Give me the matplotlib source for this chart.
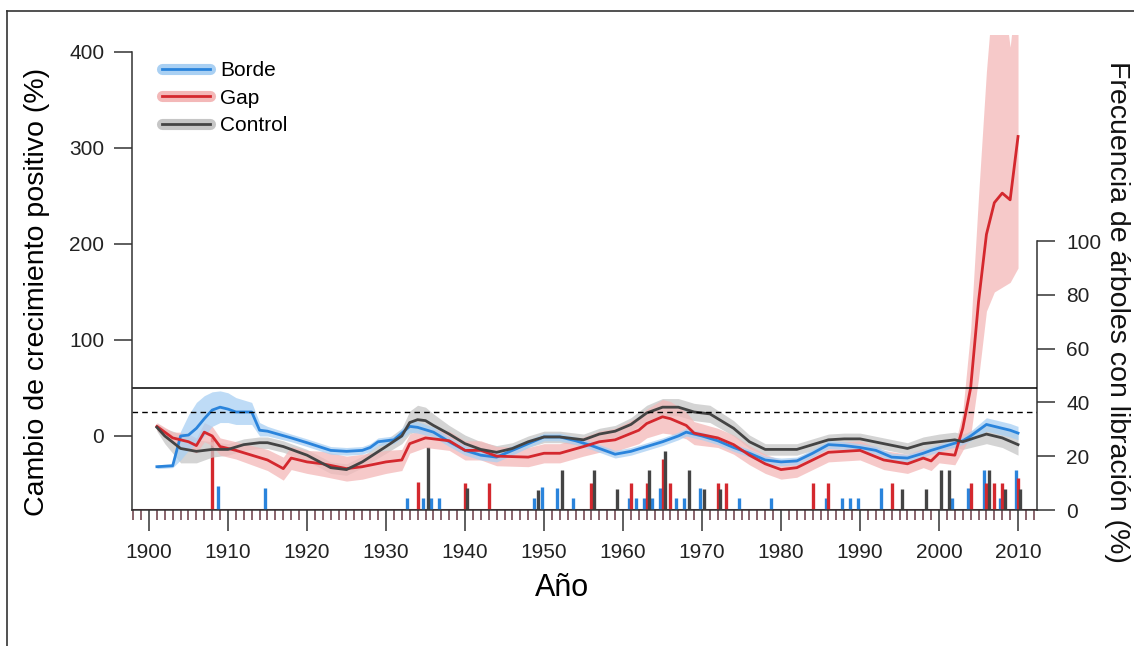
import numpy as np
import matplotlib
matplotlib.use("Agg")
import matplotlib.pyplot as plt
from matplotlib.lines import Line2D

plt.rcParams['font.family'] = ['Liberation Sans', 'DejaVu Sans']

# Borde: media y banda (lo, hi)
borde_yr = [1901, 1903, 1904, 1905, 1906, 1907, 1908, 1909, 1910, 1911, 1913, 1914, 1915,
            1918, 1920, 1923, 1925, 1927, 1928, 1929, 1931, 1932, 1933, 1934, 1936, 1938,
            1940, 1942, 1944, 1946, 1948, 1950, 1952, 1954, 1956, 1958, 1959, 1961, 1963,
            1965, 1967, 1968, 1970, 1972, 1974, 1976, 1978, 1980, 1982, 1984, 1986, 1988,
            1990, 1992, 1994, 1996, 1998, 1999, 2001, 2003, 2004, 2005, 2006, 2007, 2008,
            2009, 2010]
borde_m = [-32, -31, 0, 1, 8, 18, 27, 30, 28, 25, 25, 6, 5,
           -2, -7, -15, -16, -15, -12, -6, -4, 3, 10, 9, 4, -6,
           -15, -20, -22, -15, -8, -1, -1, -5, -10, -16, -19, -16, -11,
           -6, 0, 4, 0, -5, -12, -18, -25, -27, -26, -18, -9, -10,
           -12, -15, -22, -23, -18, -15, -10, -5, 0, 6, 12, 10, 8,
           6, 3]
borde_lo = [-34, -33, -25, -15, -8, 0, 10, 14, 14, 12, 12, 0, 0,
            -6, -11, -19, -20, -19, -16, -10, -8, -2, 4, 3, -1, -11,
            -20, -25, -27, -20, -12, -5, -5, -9, -14, -20, -23, -20, -15,
            -10, -4, 0, -4, -9, -16, -22, -29, -31, -30, -22, -13, -14,
            -16, -19, -26, -27, -22, -19, -14, -9, -5, 0, 5, 3, 1,
            -1, -4]
borde_hi = [-30, -29, 5, 22, 35, 42, 46, 47, 45, 40, 35, 14, 10,
            2, -3, -11, -12, -11, -8, -2, 0, 8, 16, 15, 9, -1,
            -10, -15, -17, -10, -4, 3, 3, -1, -6, -12, -15, -12, -7,
            -2, 4, 8, 4, -1, -8, -14, -21, -23, -22, -14, -5, -6,
            -8, -11, -18, -19, -14, -11, -6, -1, 5, 12, 19, 17, 15,
            13, 10]

# Gap
gap_yr = [1901, 1903, 1904, 1905, 1906, 1907, 1908, 1909, 1911, 1913, 1915, 1917, 1918,
          1920, 1922, 1925, 1927, 1930, 1932, 1933, 1935, 1938, 1940, 1942, 1944, 1948,
          1950, 1952, 1955, 1957, 1959, 1962, 1963, 1965, 1966, 1968, 1969, 1972, 1974,
          1976, 1978, 1980, 1982, 1984, 1986, 1988, 1990, 1993, 1996, 1998, 1999, 2000,
          2002, 2003, 2004, 2005, 2006, 2007, 2008, 2009, 2010]
gap_m = [10, -2, -4, -6, -10, 4, 0, -11, -15, -20, -25, -34, -23,
         -27, -29, -34, -32, -27, -25, -8, -2, -5, -15, -15, -21, -22,
         -18, -18, -11, -6, -4, 6, 13, 20, 18, 11, 3, -2, -9,
         -20, -29, -35, -33, -25, -17, -16, -15, -25, -29, -23, -26, -18,
         -20, 8, 50, 140, 210, 243, 253, 246, 312]
gap_lo = [6, -8, -12, -14, -18, -6, -10, -20, -24, -30, -36, -46, -35,
          -39, -42, -47, -45, -39, -36, -18, -12, -15, -25, -25, -31, -32,
          -28, -28, -21, -17, -16, -8, -2, 3, 2, -3, -9, -12, -19,
          -30, -39, -45, -43, -35, -27, -26, -25, -35, -39, -33, -36, -28,
          -30, -15, 0, 60, 130, 150, 155, 160, 175]
gap_hi = [14, 4, 4, 2, -2, 14, 10, -2, -6, -10, -14, -22, -11,
          -15, -16, -21, -19, -15, -14, 2, 8, 5, -5, -5, -11, -12,
          -8, -8, -1, 5, 8, 20, 28, 38, 36, 25, 15, 8, 1,
          -10, -19, -25, -23, -15, -7, -6, -5, -15, -19, -13, -16, -8,
          -10, 25, 110, 250, 380, 480, 470, 405, 480]

# Control
ctrl_yr = [1901, 1902, 1904, 1906, 1908, 1910, 1912, 1914, 1915, 1917, 1920, 1923, 1925,
           1927, 1930, 1932, 1933, 1934, 1935, 1936, 1938, 1940, 1942, 1944, 1946, 1948,
           1950, 1952, 1955, 1957, 1959, 1961, 1963, 1965, 1967, 1969, 1971, 1974, 1976,
           1978, 1980, 1982, 1984, 1986, 1988, 1990, 1993, 1996, 1998, 2000, 2002, 2003,
           2006, 2008, 2010]
ctrl_m = [9, 0, -13, -16, -14, -14, -9, -7, -7, -11, -20, -33, -35,
          -27, -11, 0, 14, 17, 16, 11, 2, -8, -14, -17, -13, -6,
          -1, -1, -4, 2, 5, 12, 24, 30, 30, 25, 23, 8, -6,
          -14, -14, -14, -9, -4, -3, -3, -8, -13, -8, -6, -4, -6,
          2, -2, -9]
ctrl_lo = [5, -8, -28, -28, -22, -20, -15, -13, -13, -17, -26, -39, -41,
           -33, -18, -8, 2, 5, 4, 0, -7, -17, -22, -24, -19, -12,
           -7, -7, -10, -4, -1, 5, 16, 21, 21, 16, 14, 0, -13,
           -20, -20, -20, -15, -10, -9, -9, -14, -19, -15, -14, -12, -14,
           -8, -12, -20]
ctrl_hi = [13, 8, 2, -4, -6, -8, -3, -1, -1, -5, -14, -27, -29,
           -21, -4, 8, 26, 32, 30, 23, 11, 1, -6, -10, -7, 0,
           5, 5, 2, 8, 11, 19, 32, 39, 39, 34, 32, 16, 1,
           -8, -8, -8, -3, 2, 3, 3, -2, -7, -1, 2, 4, 2,
           12, 8, 2]

# Frecuencia de arboles con liberacion (%)
borde_bar_yr = [1909, 1915, 1933, 1935, 1936, 1937, 1949, 1950, 1952, 1954, 1961, 1962,
                1963, 1964, 1965, 1967, 1968, 1970, 1975, 1979, 1986, 1988, 1989, 1990,
                1993, 2002, 2004, 2006, 2008, 2010]
borde_bar = [9, 8, 4.5, 4.5, 4.5, 4.5, 4.5, 8.5, 8, 4.5, 4.5, 4.5,
             4.5, 4.5, 8, 4.5, 4.5, 8, 4.5, 4.5, 4.5, 4.5, 4.5, 4.5,
             8, 4.5, 8, 15, 4.5, 15]
gap_bar_yr = [1908, 1934, 1940, 1943, 1956, 1961, 1963, 1965, 1966, 1972, 1973, 1984,
              1986, 1994, 2004, 2006, 2007, 2008, 2010]
gap_bar = [27, 10.5, 10, 10, 10, 10, 10, 19, 10, 10, 10, 10,
           10, 10, 10, 10, 10, 10, 12]
ctrl_bar_yr = [1935, 1940, 1949, 1952, 1956, 1959, 1963, 1965, 1968, 1970, 1972, 1995,
               1998, 2000, 2001, 2006, 2008, 2010]
ctrl_bar = [23.5, 8, 7.5, 15, 15, 7.7, 15, 22, 15, 7.7, 7.7, 7.7,
            7.7, 15, 15, 15, 7.7, 7.7]

c_borde, c_gap, c_ctrl = '#2a84dc', '#d4282e', '#444444'
f_borde, f_gap, f_ctrl = '#a9d0f3', '#f3b8b8', '#c6c6c6'

fig = plt.figure(figsize=(11.34, 6.46), dpi=100)
ax = fig.add_axes([132/1134, 1-510/646, 905/1134, 475/646])
ax2 = ax.twinx()
ax.set_zorder(ax2.get_zorder() + 1)
ax.patch.set_visible(False)

# bandas y medias
for yr, lo, hi, fc in [(ctrl_yr, ctrl_lo, ctrl_hi, f_ctrl),
                       (gap_yr, gap_lo, gap_hi, f_gap),
                       (borde_yr, borde_lo, borde_hi, f_borde)]:
    ax.fill_between(yr, lo, hi, color=fc, alpha=0.75, lw=0)
ax.plot(borde_yr, borde_m, color=c_borde, lw=2)
ax.plot(gap_yr, gap_m, color=c_gap, lw=2)
ax.plot(ctrl_yr, ctrl_m, color=c_ctrl, lw=2)

ax.axhline(50, color='black', lw=1.1)
ax.axhline(25, color='black', lw=1, ls=(0, (4, 3)))

ax.set_xlim(1897.85, 2012.4)
ax.set_ylim(-77.1, 417.7)
ax2.set_ylim(0, 176.6)

# barras de frecuencia
off = 0.3
ax2.vlines(np.array(borde_bar_yr) - off, 0, borde_bar, color=c_borde, lw=2.4)
ax2.vlines(np.array(gap_bar_yr), 0, gap_bar, color=c_gap, lw=2.4)
ax2.vlines(np.array(ctrl_bar_yr) + off, 0, ctrl_bar, color=c_ctrl, lw=2.4)
ax2.axhline(0, color='#5a3038', lw=2.2, zorder=1)

# ejes
for a in (ax, ax2):
    a.spines['top'].set_visible(False)
ax.spines['right'].set_visible(False)
ax2.spines['left'].set_visible(False)
ax2.spines['bottom'].set_visible(False)
ax.spines['left'].set_bounds(-77.1, 400)
ax2.spines['right'].set_bounds(0, 100)
for s in (ax.spines['left'], ax.spines['bottom'], ax2.spines['right']):
    s.set_color('#333333')
    s.set_linewidth(1.1)

ax.set_yticks([0, 100, 200, 300, 400])
ax2.set_yticks([0, 20, 40, 60, 80, 100])
ax.set_xticks(np.arange(1900, 2011, 10))
ax.set_xticks(np.arange(1898, 2013, 1), minor=True)
tick_kw = dict(width=1.1, labelsize=15, color='#333333', labelcolor='#222222')
ax.tick_params(axis='y', length=13, pad=7, **tick_kw)
ax2.tick_params(axis='y', length=13, pad=8, **tick_kw)
ax.tick_params(axis='x', which='major', length=15, pad=9, **tick_kw)
ax.tick_params(axis='x', which='minor', length=7, width=1.1, color='#6a3a44')

ax.set_xlabel('Año', fontsize=22)
ax.xaxis.set_label_coords(0.475, -0.132)
ax.set_ylabel('Cambio de crecimiento positivo (%)', fontsize=20.5)
ax.yaxis.set_label_coords(-0.091, 0.46)
fig.text(1117/1134, 1-312/646, 'Frecuencia de árboles con libración (%)', fontsize=20.5,
         rotation=270, ha='center', va='center', color='#111111')

# leyenda
handles = []
for c, fcol in [(c_borde, f_borde), (c_gap, f_gap), (c_ctrl, f_ctrl)]:
    handles.append((Line2D([], [], color=fcol, lw=8, solid_capstyle='round'),
                    Line2D([], [], color=c, lw=2)))
ax.legend(handles, ['Borde', 'Gap', 'Control'], loc='upper left',
          bbox_to_anchor=(0.012, 0.985), frameon=False, fontsize=15,
          handlelength=2.3, labelspacing=0.42, handletextpad=0.5)

# marco exterior
fig.add_artist(Line2D([7/1134, 7/1134], [0, 1-11/646], color='#333333', lw=1.2))
fig.add_artist(Line2D([7/1134, 1], [1-11/646, 1-11/646], color='#333333', lw=1.2))

fig.savefig('out.png', dpi=100)
